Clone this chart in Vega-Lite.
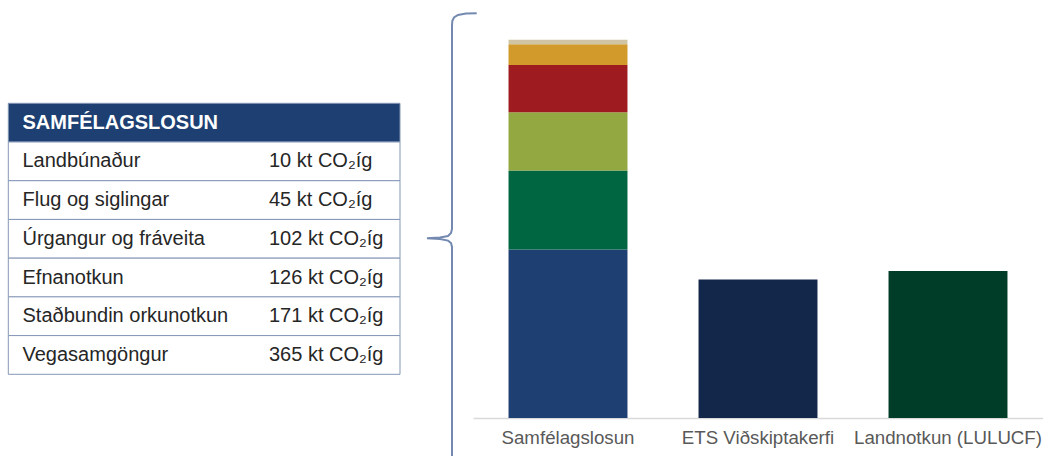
{
  "$schema": "https://vega.github.io/schema/vega-lite/v6.json",
  "padding": 0,
  "autosize": {"type": "pad"},
  "background": "white",
  "spacing": 0,
  "bounds": "flush",
  "config": {"view": {"stroke": null}, "font": "Liberation Sans", "concat": {"spacing": 0}},
  "datasets": {
    "table": [
      {"row": "SAMFÉLAGSLOSUN", "value": ""},
      {"row": "Landbúnaður", "value": "10 kt CO₂íg"},
      {"row": "Flug og siglingar", "value": "45 kt CO₂íg"},
      {"row": "Úrgangur og fráveita", "value": "102 kt CO₂íg"},
      {"row": "Efnanotkun", "value": "126 kt CO₂íg"},
      {"row": "Staðbundin orkunotkun", "value": "171 kt CO₂íg"},
      {"row": "Vegasamgöngur", "value": "365 kt CO₂íg"}
    ],
    "brace": [
      {"i": 0, "bx": 476.7, "by": -2.829},
      {"i": 1, "bx": 466, "by": -2.822},
      {"i": 2, "bx": 458, "by": -2.786},
      {"i": 3, "bx": 454, "by": -2.721},
      {"i": 4, "bx": 452.3, "by": -2.63},
      {"i": 5, "bx": 452, "by": -2.501},
      {"i": 6, "bx": 452, "by": 2.744},
      {"i": 7, "bx": 451, "by": 2.848},
      {"i": 8, "bx": 448, "by": 2.925},
      {"i": 9, "bx": 440, "by": 2.966},
      {"i": 10, "bx": 427, "by": 2.984},
      {"i": 11, "bx": 440, "by": 3.003},
      {"i": 12, "bx": 448, "by": 3.044},
      {"i": 13, "bx": 451, "by": 3.106},
      {"i": 14, "bx": 452, "by": 3.209},
      {"i": 15, "bx": 452, "by": 8.972}
    ],
    "bars": [
      {"category": "Samfélagslosun", "sector": "Vegasamgöngur", "kt": 365, "ord": 1},
      {"category": "Samfélagslosun", "sector": "Staðbundin orkunotkun", "kt": 171, "ord": 2},
      {"category": "Samfélagslosun", "sector": "Efnanotkun", "kt": 126, "ord": 3},
      {"category": "Samfélagslosun", "sector": "Úrgangur og fráveita", "kt": 102, "ord": 4},
      {"category": "Samfélagslosun", "sector": "Flug og siglingar", "kt": 45, "ord": 5},
      {"category": "Samfélagslosun", "sector": "Landbúnaður", "kt": 10, "ord": 6},
      {"category": "ETS Viðskiptakerfi", "sector": "ETS", "kt": 300, "ord": 1},
      {"category": "Landnotkun (LULUCF)", "sector": "LULUCF", "kt": 318, "ord": 1}
    ]
  },
  "hconcat": [
    {
      "width": 473,
      "height": 418,
      "layer": [
        {
          "data": {"name": "table"},
          "encoding": {
            "y": {"field": "row", "type": "nominal", "sort": null,
                  "scale": {"type": "band", "paddingInner": 0, "paddingOuter": 0, "range": [103.3, 374.3],
                            "domain": ["SAMFÉLAGSLOSUN", "Landbúnaður", "Flug og siglingar", "Úrgangur og fráveita", "Efnanotkun", "Staðbundin orkunotkun", "Vegasamgöngur"]},
                  "axis": null}
          },
          "layer": [
            {
              "mark": {"type": "rect", "stroke": "#8597b6", "strokeWidth": 1},
              "encoding": {
                "x": {"datum": 8.3, "type": "quantitative", "scale": {"domain": [0, 473], "nice": false, "zero": false}, "axis": null},
                "x2": {"datum": 400},
                "fill": {"condition": {"test": "datum.row === 'SAMFÉLAGSLOSUN'", "value": "#1d3f72"}, "value": "#ffffff"}
              }
            },
            {
              "transform": [{"filter": "datum.row === 'SAMFÉLAGSLOSUN'"}],
              "mark": {"type": "text", "align": "left", "baseline": "middle", "fontSize": 20, "fontWeight": "bold", "color": "#ffffff"},
              "encoding": {
                "x": {"datum": 22.5, "type": "quantitative"},
                "text": {"field": "row"}
              }
            },
            {
              "transform": [{"filter": "datum.row !== 'SAMFÉLAGSLOSUN'"}],
              "mark": {"type": "text", "align": "left", "baseline": "middle", "fontSize": 20, "color": "#262626"},
              "encoding": {
                "x": {"datum": 22.5, "type": "quantitative"},
                "text": {"field": "row"}
              }
            },
            {
              "transform": [{"filter": "datum.row !== 'SAMFÉLAGSLOSUN'"}],
              "mark": {"type": "text", "align": "left", "baseline": "middle", "fontSize": 20, "color": "#262626"},
              "encoding": {
                "x": {"datum": 269, "type": "quantitative"},
                "text": {"field": "value"}
              }
            }
          ]
        },
        {
          "data": {"name": "brace"},
          "mark": {"type": "line", "stroke": "#7389b0", "strokeWidth": 2, "clip": false},
          "encoding": {
            "x": {"field": "bx", "type": "quantitative"},
            "y": {"field": "by", "type": "quantitative", "scale": {"domain": [-3.173, 7.628], "reverse": true, "nice": false, "zero": false}, "axis": null},
            "order": {"field": "i"}
          }
        }
      ],
      "resolve": {"scale": {"y": "independent"}}
    },
    {
      "width": 570,
      "height": 418,
      "data": {"name": "bars"},
      "mark": {"type": "bar"},
      "encoding": {
        "x": {"field": "category", "type": "nominal", "sort": null,
              "scale": {"paddingInner": 0.374, "paddingOuter": 0.187},
              "axis": {"title": null, "labelAngle": 0, "ticks": false, "domainColor": "#d9d9d9", "domainWidth": 1.5,
                       "labelFontSize": 18.7, "labelColor": "#595959", "labelFont": "Liberation Sans", "labelPadding": 10, "labelLimit": 0}},
        "y": {"field": "kt", "type": "quantitative", "stack": "zero", "scale": {"domain": [0, 905], "nice": false}, "axis": null},
        "color": {"field": "sector", "type": "nominal", "legend": null,
                  "scale": {"domain": ["Vegasamgöngur", "Staðbundin orkunotkun", "Efnanotkun", "Úrgangur og fráveita", "Flug og siglingar", "Landbúnaður", "ETS", "LULUCF"],
                            "range": ["#1d3f72", "#006641", "#93a840", "#9e1b1f", "#d29a2b", "#cfc4a4", "#13274a", "#003d28"]}},
        "order": {"field": "ord", "type": "quantitative"}
      }
    }
  ]
}
